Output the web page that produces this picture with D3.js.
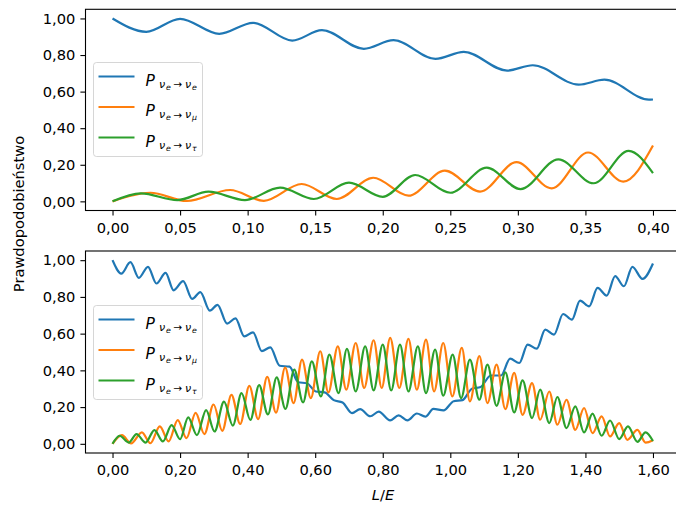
<!DOCTYPE html>
<html lang="pl">
<head>
<meta charset="UTF-8">
<title>Prawdopodobieństwo oscylacji</title>
<script src="https://d3js.org/d3.v7.min.js"></script>
<style>
  body { margin: 0; background: #fff; }
  svg { display: block; font-family: "DejaVu Sans", sans-serif; }
</style>
</head>
<body>
<svg width="676" height="507"></svg>
<script>
// values: [L/E, probability] at the turning points of each curve
const topPee = [[0,1.000],[0.025,0.927],[0.050,0.998],[0.079,0.916],[0.104,0.976],[0.133,0.879],[0.155,0.936],
  [0.186,0.834],[0.208,0.881],[0.239,0.779],[0.260,0.817],[0.292,0.715],[0.311,0.744],[0.345,0.638],
  [0.364,0.665],[0.397,0.556],[0.400,0.557]];
const topPemu = [[0,0],[0.028,0.047],[0.055,0.002],[0.087,0.062],[0.112,0.003],[0.140,0.095],[0.166,0.013],
  [0.193,0.129],[0.219,0.031],[0.246,0.168],[0.272,0.053],[0.299,0.214],[0.325,0.071],[0.352,0.267],
  [0.378,0.108],[0.400,0.305]];
const topPetau = [[0,0],[0.021,0.044],[0.048,0.007],[0.071,0.053],[0.098,0.007],[0.124,0.075],[0.149,0.013],
  [0.175,0.102],[0.200,0.025],[0.224,0.144],[0.250,0.047],[0.277,0.184],[0.302,0.067],[0.330,0.230],
  [0.356,0.099],[0.382,0.276],[0.400,0.154]];

const botPee = [[0,1.000],[0.026,0.927],[0.053,0.989],[0.078,0.904],[0.105,0.964],[0.130,0.873],[0.157,0.931],
  [0.181,0.836],[0.209,0.886],[0.236,0.789],[0.260,0.826],[0.288,0.725],[0.311,0.757],[0.339,0.655],
  [0.364,0.683],[0.390,0.585],[0.416,0.607],[0.442,0.505],[0.467,0.525],[0.495,0.425],[0.524,0.420],
  [0.550,0.335],[0.575,0.330],[0.602,0.285],[0.628,0.280],[0.655,0.238],[0.681,0.225],[0.709,0.167],
  [0.733,0.189],[0.763,0.150],[0.788,0.175],[0.822,0.128],[0.847,0.155],[0.873,0.128],[0.901,0.165],
  [0.926,0.148],[0.950,0.190],[0.980,0.182],[1.010,0.232],[1.036,0.238],[1.064,0.300],[1.090,0.310],
  [1.120,0.372],[1.150,0.372],[1.177,0.464],[1.204,0.440],[1.229,0.540],[1.256,0.518],[1.281,0.622],
  [1.307,0.595],[1.334,0.707],[1.360,0.676],[1.384,0.780],[1.411,0.749],[1.436,0.849],[1.463,0.807],
  [1.488,0.913],[1.514,0.858],[1.539,0.964],[1.569,0.898],[1.600,0.982]];
const botPemu = [[0,0],[0.028,0.047],[0.055,0.002],[0.087,0.062],[0.112,0.003],[0.140,0.095],[0.166,0.013],
  [0.193,0.129],[0.219,0.031],[0.246,0.168],[0.272,0.053],[0.299,0.214],[0.325,0.071],[0.352,0.267],
  [0.378,0.108],[0.405,0.315],[0.431,0.135],[0.458,0.365],[0.484,0.170],[0.511,0.415],[0.536,0.222],
  [0.561,0.458],[0.587,0.249],[0.615,0.504],[0.639,0.280],[0.667,0.531],[0.692,0.295],[0.720,0.549],
  [0.745,0.304],[0.773,0.564],[0.797,0.304],[0.822,0.577],[0.849,0.304],[0.876,0.571],[0.901,0.295],
  [0.928,0.567],[0.952,0.285],[0.979,0.549],[1.006,0.258],[1.034,0.522],[1.058,0.231],[1.086,0.478],
  [1.110,0.222],[1.137,0.431],[1.163,0.189],[1.189,0.386],[1.214,0.158],[1.242,0.331],[1.266,0.131],
  [1.293,0.285],[1.317,0.104],[1.344,0.240],[1.370,0.076],[1.396,0.195],[1.421,0.058],[1.448,0.149],
  [1.473,0.040],[1.500,0.113],[1.524,0.022],[1.554,0.076],[1.578,0.007],[1.600,0.020]];
const botPetau = [[0,0],[0.021,0.044],[0.048,0.007],[0.071,0.053],[0.098,0.007],[0.124,0.075],[0.149,0.013],
  [0.175,0.102],[0.200,0.025],[0.224,0.144],[0.250,0.047],[0.277,0.184],[0.302,0.067],[0.330,0.230],
  [0.356,0.099],[0.382,0.276],[0.408,0.130],[0.434,0.320],[0.460,0.160],[0.486,0.362],[0.512,0.190],
  [0.538,0.404],[0.564,0.225],[0.590,0.449],[0.617,0.258],[0.642,0.486],[0.669,0.276],[0.694,0.517],
  [0.720,0.285],[0.748,0.531],[0.773,0.291],[0.800,0.540],[0.825,0.291],[0.851,0.540],[0.876,0.285],
  [0.904,0.531],[0.928,0.276],[0.955,0.513],[0.979,0.262],[1.007,0.486],[1.032,0.249],[1.058,0.458],
  [1.086,0.240],[1.110,0.431],[1.137,0.207],[1.163,0.389],[1.189,0.171],[1.214,0.345],[1.242,0.140],
  [1.266,0.295],[1.293,0.113],[1.317,0.255],[1.344,0.086],[1.370,0.204],[1.396,0.062],[1.421,0.164],
  [1.448,0.044],[1.473,0.127],[1.500,0.026],[1.526,0.095],[1.554,0.011],[1.578,0.062],[1.600,0.015]];

const topXTicks = [0, 0.05, 0.10, 0.15, 0.20, 0.25, 0.30, 0.35, 0.40];
const botXTicks = [0, 0.20, 0.40, 0.60, 0.80, 1.00, 1.20, 1.40, 1.60];
const yTicks = [0, 0.20, 0.40, 0.60, 0.80, 1.00];
const flavors = ["e", "μ", "τ"];
const colors = ["#1f77b4", "#ff7f0e", "#2ca02c"];

const svg = d3.select("svg");
const FS = 14.67;
const left = 85.5, right = 680;

// polish-style decimal comma
const fmt = d3.formatLocale({decimal: ",", thousands: " ", grouping: [3], currency: ["", ""]}).format(".2f");

function drawPanel(series, xDomain, xTicks, top, bottom, legendTop) {
    const x = d3.scaleLinear().domain(xDomain).range([left, right]);
    const y = d3.scaleLinear().domain([-0.05, 1.05]).range([bottom, top]);
    const g = svg.append("g");

    const line = d3.line()
        .x(d => x(d[0]))
        .y(d => y(d[1]))
        .curve(d3.curveMonotoneX);

    series.forEach((s, i) => {
        g.append("path")
         .attr("d", line(s))
         .attr("fill", "none")
         .attr("stroke", colors[i])
         .attr("stroke-width", 2.2)
         .attr("stroke-linejoin", "round");
    });

    // axes
    const xa = g.append("g")
        .attr("transform", `translate(0,${bottom})`)
        .call(d3.axisBottom(x).tickValues(xTicks).tickFormat(fmt).tickSize(5.1).tickPadding(6.5));
    const ya = g.append("g")
        .attr("transform", `translate(${left},0)`)
        .call(d3.axisLeft(y).tickValues(yTicks).tickFormat(fmt).tickSize(5.1).tickPadding(5));
    [xa, ya].forEach(a => {
        a.select(".domain").remove();
        a.attr("font-family", null).attr("font-size", null);
        a.selectAll("line").attr("stroke", "#000").attr("stroke-width", 1.1);
        a.selectAll("text").attr("fill", "#000").style("font-size", FS + "px");
    });

    g.append("rect")
     .attr("x", left).attr("y", top)
     .attr("width", right - left).attr("height", bottom - top)
     .attr("fill", "none").attr("stroke", "#000").attr("stroke-width", 1.1);

    // legend
    const lg = g.append("g").attr("transform", `translate(93.5,${legendTop})`);
    lg.append("rect")
      .attr("width", 109).attr("height", 94).attr("rx", 3)
      .attr("fill", "#fff").attr("fill-opacity", 0.8)
      .attr("stroke", "#cccccc").attr("stroke-opacity", 0.8).attr("stroke-width", 1);

    flavors.forEach((f, i) => {
        const ly = 14 + i * 30.5;
        lg.append("line")
          .attr("x1", 5).attr("x2", 41).attr("y1", ly).attr("y2", ly)
          .attr("stroke", colors[i]).attr("stroke-width", 2.2);
        const t = lg.append("text").attr("fill", "#000");
        t.append("tspan").attr("x", 52).attr("y", ly + 9)
         .style("font-size", "15.5px").style("font-style", "italic").text("P");
        t.append("tspan").attr("x", 65.5).attr("y", ly + 11)
         .style("font-size", "11px").style("font-style", "italic").text("ν");
        t.append("tspan").attr("x", 72.5).attr("y", ly + 13)
         .style("font-size", "7.8px").style("font-style", "italic").text("e");
        t.append("tspan").attr("x", 80).attr("y", ly + 11.5)
         .style("font-size", "10.5px").text("→");
        t.append("tspan").attr("x", 91.5).attr("y", ly + 11)
         .style("font-size", "11px").style("font-style", "italic").text("ν");
        t.append("tspan").attr("x", 98.5).attr("y", ly + 13)
         .style("font-size", "7.8px").style("font-style", "italic").text(f);
    });
}

drawPanel([topPee, topPemu, topPetau], [-0.02, 0.42], topXTicks, 9.3, 210.5, 62.5);
drawPanel([botPee, botPemu, botPetau], [-0.08, 1.68], botXTicks, 251, 453, 305.5);

// axis titles
svg.append("text")
   .attr("transform", "translate(24,214) rotate(-90)")
   .attr("text-anchor", "middle")
   .style("font-size", FS + "px")
   .text("Prawdopodobieństwo");

const xl = svg.append("text")
   .attr("x", 383).attr("y", 500)
   .attr("text-anchor", "middle")
   .style("font-size", FS + "px");
xl.append("tspan").style("font-style", "italic").text("L");
xl.append("tspan").text("/");
xl.append("tspan").style("font-style", "italic").text("E");
</script>
</body>
</html>
